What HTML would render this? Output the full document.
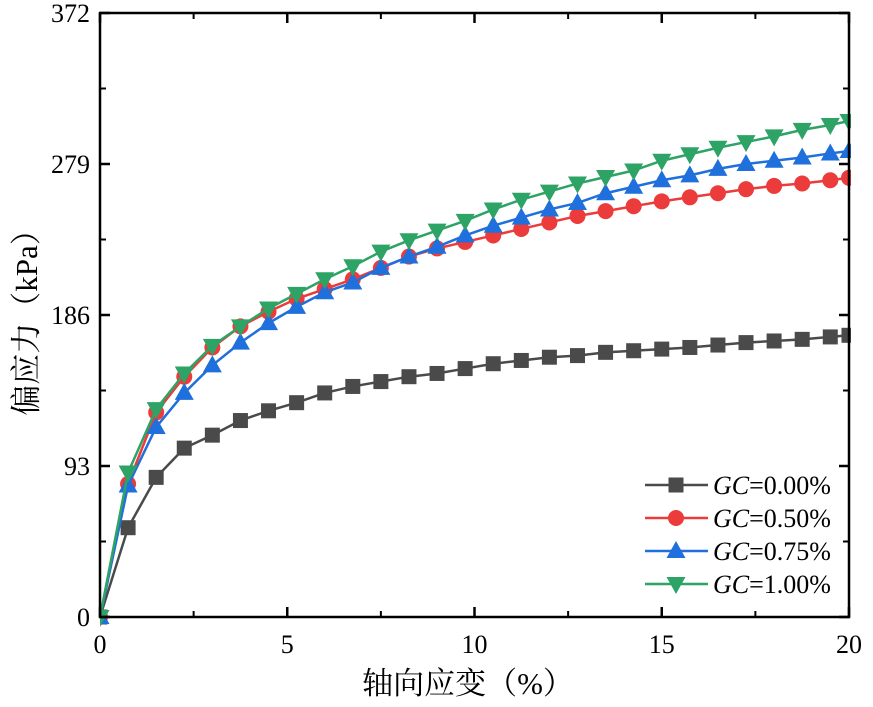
<!DOCTYPE html>
<html><head><meta charset="utf-8"><style>
body{margin:0;background:#fff}
svg text{font-family:"Liberation Serif","Noto Serif CJK SC",serif}
</style></head><body>
<svg id="chart" width="873" height="702" xmlns="http://www.w3.org/2000/svg">
<g id="plot"></g>
</svg>
<script>
const strains=[0,0.75,1.5,2.25,3,3.75,4.5,5.25,6,6.75,7.5,8.25,9,9.75,10.5,11.25,12,12.75,13.5,14.25,15,15.75,16.5,17.25,18,18.75,19.5,20];
const gc000=[0,55,86,104,112,121,127,132,138,142,145,148,150,153,156,158,160,161,163,164,165,166,167.5,169,170,171,172.5,173.5];
const gc050=[0,82,126,148,166,179,188,196,202,208,215,222,227,231,235,239,243,247,250,253,256,258.5,261,263.5,265.5,267,269,270.5];
const gc075=[0,81,117,138,155,169,181,191,200,206,215,222,228,235,241,246,251,255,261,265,269,272,276,279,281,283,285.5,287];
const gc100=[0,89,128,150,167,179,190,199,208,216,225,232,238,244,251,257,262,267,271,275,281,285,289,292.5,296,300,303,305.5];
const yTicks=[0,93,186,279,372];
const xTicks=[0,5,10,15,20];
const seriesNames=["GC=0.00%","GC=0.50%","GC=0.75%","GC=1.00%"];

const X0=100,X1=849,Y0=617,Y1=13;
const xs=v=>X0+(v/20)*(X1-X0);
const ys=v=>Y0-(v/372)*(Y0-Y1);
const NS="http://www.w3.org/2000/svg";
const g=document.getElementById('plot');
function mk(tag,at,parent){const e=document.createElementNS(NS,tag);for(const k in at)e.setAttribute(k,at[k]);(parent||g).appendChild(e);return e;}

function marker(type,cx,cy,color,parent){
  if(type==='sq') return mk('rect',{x:cx-7.5,y:cy-7.5,width:15,height:15,fill:color},parent);
  if(type==='ci') return mk('circle',{cx:cx,cy:cy,r:8,fill:color},parent);
  if(type==='up') return mk('polygon',{points:`${cx},${cy-10} ${cx-9.5},${cy+7} ${cx+9.5},${cy+7}`,fill:color},parent);
  return mk('polygon',{points:`${cx},${cy+10} ${cx-9.5},${cy-7} ${cx+9.5},${cy-7}`,fill:color},parent);
}
const defs=mk('defs',{});const cp=mk('clipPath',{id:'clip'},defs);mk('rect',{x:X0,y:Y1,width:X1-X0+2,height:Y0-Y1+10},cp);

const series=[[gc000,'#4a4a4a','sq'],[gc050,'#ec3b3b','ci'],[gc075,'#1f6fdc','up'],[gc100,'#2ea366','dn']];
series.forEach((s,i)=>{
  const grp=mk('g',{'clip-path':'url(#clip)'});
  
  
  mk('polyline',{points:strains.map((x,j)=>xs(x)+','+ys(s[0][j])).join(' '),fill:'none',stroke:s[1],'stroke-width':2.5},grp);
  strains.forEach((x,j)=>{const m=marker(s[2],xs(x),ys(s[0][j]),s[1],grp);
    
    });
});

const fr=mk('rect',{x:X0,y:Y1,width:X1-X0,height:Y0-Y1,fill:'none',stroke:'#000','stroke-width':2.5});


yTicks.forEach((v,i)=>{
  const y=ys(v);
  mk('line',{x1:X0,y1:y,x2:X0+10,y2:y,stroke:'#000','stroke-width':2.5});
  mk('line',{x1:X1,y1:y,x2:X1-10,y2:y,stroke:'#000','stroke-width':2.5});
  if(i<yTicks.length-1){const ym=ys(v+46.5);
    mk('line',{x1:X0,y1:ym,x2:X0+6,y2:ym,stroke:'#000','stroke-width':2});
    mk('line',{x1:X1,y1:ym,x2:X1-6,y2:ym,stroke:'#000','stroke-width':2});}
  const t=mk('text',{x:X0-10,y:y+9,'text-anchor':'end','font-size':26});t.textContent=v;
  
  
});
xTicks.forEach((v,i)=>{
  const x=xs(v);
  mk('line',{x1:x,y1:Y0,x2:x,y2:Y0-10,stroke:'#000','stroke-width':2.5});
  mk('line',{x1:x,y1:Y1,x2:x,y2:Y1+10,stroke:'#000','stroke-width':2.5});
  if(i<xTicks.length-1){const xm=xs(v+2.5);
    mk('line',{x1:xm,y1:Y0,x2:xm,y2:Y0-6,stroke:'#000','stroke-width':2});
    mk('line',{x1:xm,y1:Y1,x2:xm,y2:Y1+6,stroke:'#000','stroke-width':2});}
  const t=mk('text',{x:x,y:Y0+36,'text-anchor':'middle','font-size':26});t.textContent=v;
  
  
});
const xt=mk('text',{x:468,y:694,'text-anchor':'middle','font-size':31});xt.textContent='轴向应变（%）';


const yt=mk('text',{x:0,y:0,'text-anchor':'middle','font-size':31,transform:'translate(37,315) rotate(-90)'});yt.textContent='偏应力（kPa）';


series.forEach((s,i)=>{
  const y=485+i*33;
  const lg=mk('g',{});
  
  
  mk('line',{x1:645,y1:y,x2:708,y2:y,stroke:s[1],'stroke-width':2.5},lg);
  marker(s[2],676,y,s[1],lg);
  const t=mk('text',{x:713,y:y+9,'font-size':26},lg);
  t.innerHTML='<tspan font-style="italic">GC</tspan>'+seriesNames[i].slice(2);
});
</script>
</body></html>
